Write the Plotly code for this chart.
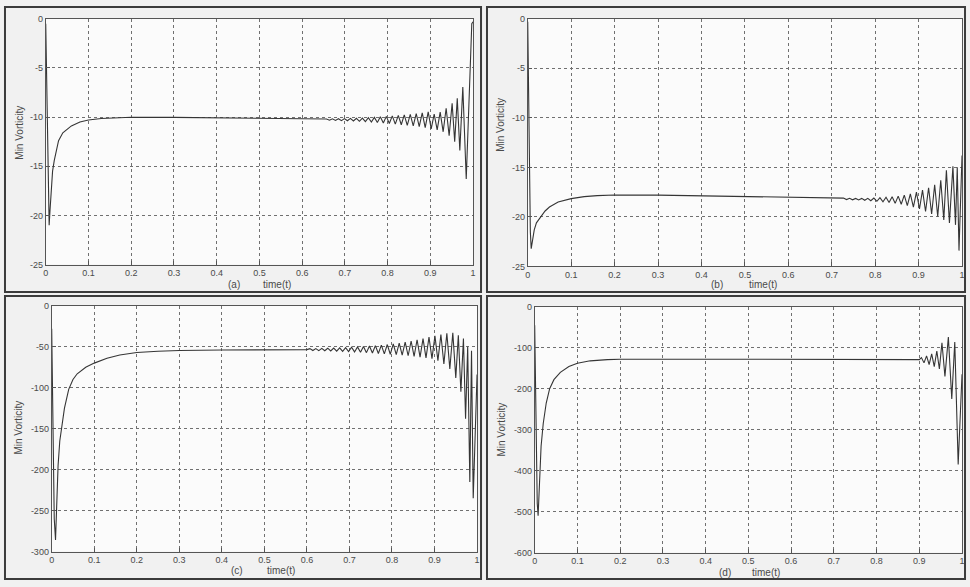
import plotly.graph_objects as go

# ---------------- data ----------------
t_a = [0.000, 0.003, 0.006, 0.008, 0.010, 0.013, 0.016, 0.020, 0.025, 0.030, 0.040, 0.050,
       0.060, 0.080, 0.100, 0.130, 0.170, 0.200, 0.300, 0.400, 0.500, 0.600, 0.650,
       0.657, 0.664, 0.671, 0.678, 0.685, 0.692, 0.699, 0.706, 0.713, 0.720, 0.727, 0.734,
       0.741, 0.748, 0.755, 0.762, 0.769, 0.776, 0.783, 0.790, 0.797, 0.804, 0.811, 0.818,
       0.825, 0.832, 0.839, 0.846, 0.853, 0.860, 0.867, 0.874, 0.881, 0.888, 0.895, 0.902,
       0.909, 0.916, 0.923, 0.930, 0.937, 0.944, 0.951, 0.957, 0.963, 0.969, 0.976, 0.984,
       0.997, 1.000]
v_a = [-0.5, -8.0, -18.0, -21.0, -19.5, -17.0, -15.5, -14.4, -13.2, -12.4, -11.6, -11.2,
       -10.9, -10.5, -10.3, -10.15, -10.05, -10.02, -10.03, -10.08, -10.12, -10.2, -10.25,
       -10.20, -10.32, -10.18, -10.34, -10.17, -10.36, -10.16, -10.38, -10.14, -10.40, -10.12, -10.43,
       -10.10, -10.46, -10.07, -10.50, -10.03, -10.55, -9.98, -10.60, -9.93, -10.66, -9.88, -10.72,
       -9.83, -10.78, -9.78, -10.84, -9.72, -10.90, -9.66, -10.98, -9.58, -11.08, -9.48, -11.20,
       -9.70, -11.30, -9.50, -11.50, -9.10, -11.90, -8.60, -12.50, -8.10, -13.40, -6.95, -16.30,
       -0.5, -0.3]

t_b = [0.000, 0.003, 0.006, 0.008, 0.011, 0.015, 0.020, 0.030, 0.040, 0.050, 0.070, 0.100,
       0.130, 0.160, 0.200, 0.300, 0.400, 0.500, 0.600, 0.700, 0.720,
       0.727, 0.734, 0.741, 0.748, 0.755, 0.762, 0.769, 0.776, 0.783, 0.790, 0.797, 0.804,
       0.811, 0.818, 0.825, 0.832, 0.839, 0.846, 0.853, 0.860, 0.867, 0.874, 0.881, 0.888,
       0.895, 0.902, 0.909, 0.916, 0.923, 0.930, 0.937, 0.944, 0.951, 0.958, 0.964, 0.971,
       0.979, 0.985, 0.989, 0.993, 1.000]
v_b = [-0.3, -12.0, -21.5, -23.2, -22.4, -21.3, -20.6, -20.0, -19.4, -19.0, -18.5, -18.15,
       -17.95, -17.85, -17.78, -17.8, -17.88, -17.95, -18.05, -18.15, -18.17,
       -18.10, -18.25, -18.12, -18.27, -18.13, -18.29, -18.13, -18.32, -18.12, -18.36, -18.10, -18.42,
       -18.06, -18.48, -18.02, -18.55, -17.97, -18.63, -17.90, -18.72, -17.80, -18.85, -17.68, -19.00,
       -17.50, -19.20, -17.30, -19.45, -17.05, -19.70, -16.75, -19.95, -16.30, -20.30, -15.30, -20.60,
       -14.90, -20.80, -15.00, -23.40, -13.80]

t_c = [0.000, 0.003, 0.006, 0.009, 0.012, 0.015, 0.019, 0.023, 0.030, 0.040, 0.050, 0.060,
       0.080, 0.100, 0.130, 0.160, 0.200, 0.250, 0.300, 0.400, 0.500, 0.600,
       0.607, 0.614, 0.621, 0.628, 0.635, 0.642, 0.649, 0.656, 0.663, 0.670, 0.677, 0.684,
       0.691, 0.698, 0.705, 0.712, 0.719, 0.726, 0.733, 0.740, 0.747, 0.754, 0.761, 0.768,
       0.775, 0.782, 0.789, 0.796, 0.803, 0.810, 0.817, 0.824, 0.831, 0.838, 0.845, 0.852,
       0.859, 0.866, 0.873, 0.880, 0.887, 0.894, 0.901, 0.908, 0.915, 0.922, 0.929, 0.936,
       0.943, 0.950, 0.956, 0.962, 0.968, 0.973, 0.978, 0.983, 0.987, 0.991, 1.000]
v_c = [-28, -150, -260, -286, -240, -195, -165, -148, -125, -102, -90, -83,
       -75, -70, -64, -60, -57, -55.5, -54.5, -54, -53.8, -53.5,
       -52.3, -54.6, -52.2, -54.7, -52.0, -54.9, -51.8, -55.1, -51.6, -55.3, -51.3, -55.6,
       -51.0, -55.9, -50.6, -56.3, -50.2, -56.7, -49.7, -57.2, -49.2, -57.7, -48.6, -58.2,
       -48.0, -58.7, -47.3, -59.2, -46.5, -59.7, -45.5, -60.3, -44.3, -61.0, -43.0, -61.8,
       -41.5, -62.7, -40.0, -63.5, -38.3, -64.5, -36.7, -67.0, -35.0, -71.0, -33.5, -77.0,
       -33.0, -88.0, -36.0, -105.0, -40.0, -138.0, -50.0, -215.0, -55.0, -235.0, -84.0]

t_d = [0.000, 0.003, 0.006, 0.008, 0.011, 0.015, 0.020, 0.027, 0.035, 0.045, 0.060, 0.080,
       0.100, 0.130, 0.170, 0.200, 0.500, 0.800, 0.900,
       0.905, 0.911, 0.917, 0.923, 0.929, 0.935, 0.941, 0.947, 0.953, 0.960, 0.968, 0.976,
       0.983, 0.991, 1.000]
v_d = [-45, -280, -480, -510, -420, -340, -285, -235, -200, -178, -160, -146,
       -138, -132, -129, -128, -128, -128.5, -129,
       -124, -137, -120, -141, -115, -146, -108, -152, -88, -170, -74, -225,
       -86, -385, -165]

x_ticks = [0, 0.1, 0.2, 0.3, 0.4, 0.5, 0.6, 0.7, 0.8, 0.9, 1]
x_tick_text = ["0", "0.1", "0.2", "0.3", "0.4", "0.5", "0.6", "0.7", "0.8", "0.9", "1"]
y_ticks_ab = [0, -5, -10, -15, -20, -25]
y_text_ab = ["0", "-5", "-10", "-15", "-20", "-25"]
y_ticks_c = [0, -50, -100, -150, -200, -250, -300]
y_text_c = ["0", "-50", "-100", "-150", "-200", "-250", "-300"]
y_ticks_d = [0, -100, -200, -300, -400, -500, -600]
y_text_d = ["0", "-100", "-200", "-300", "-400", "-500", "-600"]
panel_labels = ["(a)", "(b)", "(c)", "(d)"]
x_title = "time(t)"
y_title = "Min Vorticity"

# ---------------- layout ----------------
W, H = 970, 587
FONT = "Liberation Sans, Arial, sans-serif"
TXT = "#4a4a4a"

def fx(p):
    return p / W

def fy(p):
    return 1 - p / H

panels = [
    dict(t=t_a, v=v_a, yt=y_ticks_ab, ytt=y_text_ab, yr=[-25, 0],
         xd=(43, 473), yd=(14, 264), lab=(232, 284), tt=(276, 284), yl=(17, 130),
         frame=(2, 2, 481, 292)),
    dict(t=t_b, v=v_b, yt=y_ticks_ab, ytt=y_text_ab, yr=[-25, 0],
         xd=(528, 965), yd=(14, 266), lab=(718, 284), tt=(765, 284), yl=(501, 122),
         frame=(487, 2, 968, 292)),
    dict(t=t_c, v=v_c, yt=y_ticks_c, ytt=y_text_c, yr=[-300, 0],
         xd=(49, 477), yd=(306, 556), lab=(235, 575), tt=(280, 575), yl=(16, 430),
         frame=(2, 296, 481, 584)),
    dict(t=t_d, v=v_d, yt=y_ticks_d, ytt=y_text_d, yr=[-600, 0],
         xd=(535, 965), yd=(307, 557), lab=(726, 577), tt=(768, 577), yl=(502, 432),
         frame=(487, 296, 968, 584)),
]

fig = go.Figure()
annotations = []
shapes = []
for i, p in enumerate(panels):
    n = "" if i == 0 else str(i + 1)
    fig.add_trace(go.Scatter(x=p["t"], y=p["v"], mode="lines",
                             line=dict(color="#353535", width=1.1),
                             xaxis="x" + n, yaxis="y" + n, showlegend=False,
                             hoverinfo="skip"))
    common = dict(showline=True, mirror=True, linecolor="#555555", linewidth=1,
                  showgrid=True, gridcolor="#707070", griddash="dot", gridwidth=1,
                  ticks="inside", ticklen=4, tickcolor="#555555", zeroline=False,
                  tickfont=dict(family=FONT, size=9, color=TXT), fixedrange=True)
    fig.update_layout(**{
        "xaxis" + n: dict(domain=[fx(p["xd"][0]), fx(p["xd"][1])], range=[0, 1],
                          tickmode="array", tickvals=x_ticks, ticktext=x_tick_text,
                          anchor="y" + n, **common),
        "yaxis" + n: dict(domain=[fy(p["yd"][1]), fy(p["yd"][0])], range=p["yr"],
                          tickmode="array", tickvals=p["yt"], ticktext=p["ytt"],
                          anchor="x" + n, **common),
    })
    annotations.append(dict(x=fx(p["lab"][0]), y=fy(p["lab"][1]), xref="paper", yref="paper",
                            xanchor="center", yanchor="middle",
                            text=panel_labels[i], showarrow=False,
                            font=dict(family=FONT, size=10, color=TXT)))
    annotations.append(dict(x=fx(p["tt"][0]), y=fy(p["tt"][1]), xref="paper", yref="paper",
                            xanchor="center", yanchor="middle",
                            text=x_title, showarrow=False,
                            font=dict(family=FONT, size=10, color=TXT)))
    annotations.append(dict(x=fx(p["yl"][0]), y=fy(p["yl"][1]), xref="paper", yref="paper",
                            xanchor="center", yanchor="middle",
                            text=y_title, showarrow=False, textangle=-90,
                            font=dict(family=FONT, size=10, color=TXT)))
    x0, y0, x1, y1 = p["frame"]
    shapes.append(dict(type="rect", xref="paper", yref="paper",
                       x0=fx(x0), x1=fx(x1), y0=fy(y1), y1=fy(y0),
                       line=dict(color="#3c3c3c", width=2), layer="below"))

fig.update_layout(width=W, height=H, margin=dict(l=0, r=0, t=0, b=0),
                  paper_bgcolor="#f1f1f1", plot_bgcolor="#fbfbfb",
                  annotations=annotations, shapes=shapes, showlegend=False)

fig.write_html("out.html", config={"displayModeBar": False},
               post_script="document.body.style.margin='0';document.body.style.overflow='hidden';")
